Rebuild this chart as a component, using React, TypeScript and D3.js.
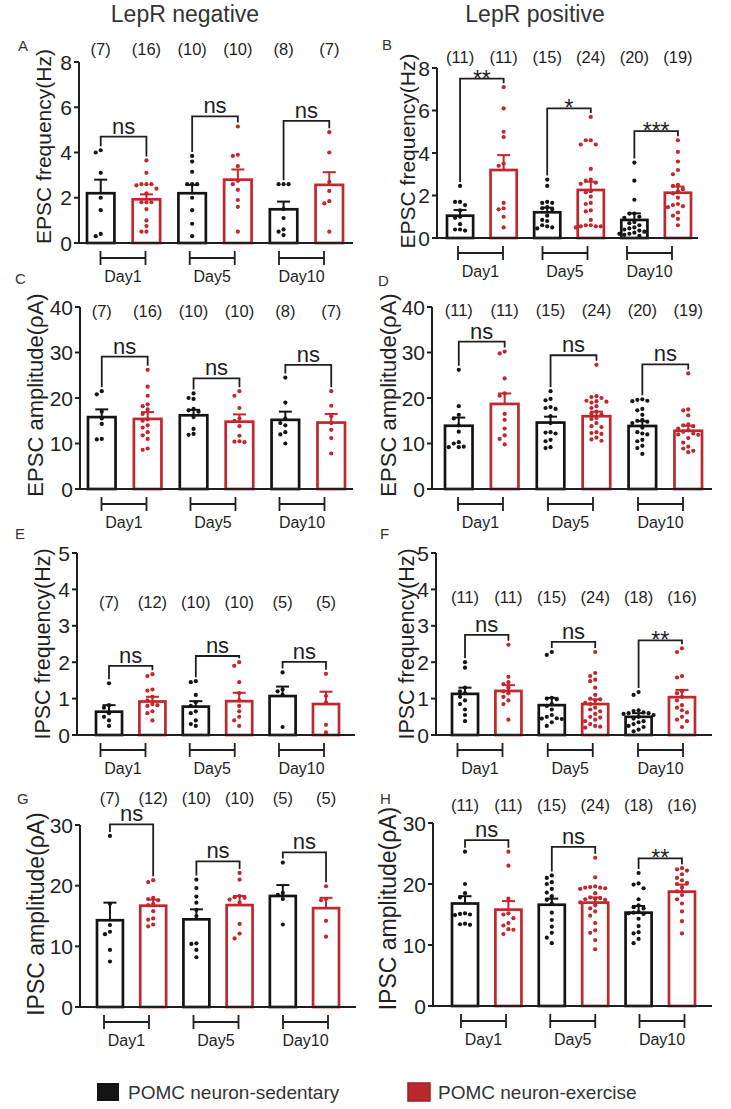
import React from 'react';
import * as d3 from 'd3';

// ---------- data ----------
const days = ['Day1', 'Day5', 'Day10'];
const columnTitles = ['LepR negative', 'LepR positive'];
const legendLabels = ['POMC neuron-sedentary', 'POMC neuron-exercise'];

// Panel A: EPSC frequency, LepR negative
const aTicks = [0, 2, 4, 6, 8];
const aMeans = [2.2, 1.93, 2.2, 2.8, 1.49, 2.57];
const aSems = [0.6, 0.22, 0.37, 0.45, 0.34, 0.56];
const aPoints = [
  [4.1, 4.0, 3.1, 2.0, 1.45, 0.4, 0.3],
  [3.65, 3.1, 2.6, 2.6, 2.6, 2.55, 2.4, 2.2, 1.8, 1.8, 1.8, 1.5, 1.0, 0.75, 0.5, 0.5],
  [3.85, 3.6, 3.15, 2.6, 2.6, 2.6, 2.0, 1.45, 0.85, 0.3],
  [5.15, 3.9, 3.85, 3.4, 2.75, 2.6, 2.35, 1.9, 1.6, 0.5],
  [2.6, 2.6, 2.6, 1.5, 1.1, 0.6, 0.5, 0.35],
  [4.9, 4.0, 2.7, 2.3, 1.85, 1.75, 0.5],
];
const aSig = ['ns', 'ns', 'ns'];
const aSigLevel = [4.7, 5.6, 5.4];
const aCountLevel = 8.55;

// Panel B: EPSC frequency, LepR positive
const bTicks = [0, 2, 4, 6, 8];
const bMeans = [1.05, 3.2, 1.21, 2.26, 0.85, 2.13];
const bSems = [0.27, 0.7, 0.22, 0.39, 0.31, 0.29];
const bPoints = [
  [2.45, 1.7, 1.7, 1.55, 1.3, 1.0, 0.95, 0.65, 0.4, 0.4, 0.35],
  [7.1, 6.1, 5.0, 4.75, 3.5, 3.4, 1.65, 1.4, 1.35, 1.0, 0.5],
  [2.75, 2.45, 1.7, 1.65, 1.65, 1.45, 1.4, 1.35, 1.05, 0.85, 0.8, 0.6, 0.55, 0.5, 0.45],
  [5.7, 4.6, 4.6, 4.4, 4.4, 3.25, 2.75, 2.7, 2.6, 2.55, 2.2, 2.15, 1.95, 1.65, 1.6, 1.3, 1.25, 0.85, 0.6, 0.6, 0.55, 0.55, 0.55, 0.5],
  [3.55, 2.7, 1.8, 1.15, 1.15, 1.0, 0.95, 0.75, 0.7, 0.6, 0.5, 0.45, 0.4, 0.35, 0.3, 0.25, 0.2, 0.2, 0.15, 0.1],
  [4.6, 4.05, 3.6, 3.2, 3.0, 2.5, 2.45, 2.3, 2.2, 2.1, 1.9, 1.6, 1.55, 1.5, 1.45, 1.2, 1.05, 0.9, 0.6],
];
const bSig = ['**', '*', '***'];
const bSigLevel = [7.5, 6.1, 5.03];
const bCountLevel = 8.5;

// Panel C: EPSC amplitude, LepR negative
const cTicks = [0, 10, 20, 30, 40];
const cMeans = [15.8, 15.4, 16.2, 14.8, 15.2, 14.6];
const cSems = [1.7, 1.5, 1.2, 1.6, 1.8, 1.9];
const cPoints = [
  [21.5, 20.8, 17.0, 15.5, 14.3, 11.0, 10.9],
  [26.2, 22.5, 20.5, 18.6, 18.2, 17.5, 16.5, 15.3, 15.0, 14.0, 13.5, 12.5, 11.8, 11.0, 8.9, 8.6],
  [21.0, 20.0, 19.8, 17.6, 17.3, 17.0, 15.8, 13.2, 12.1, 11.9],
  [21.5, 20.5, 17.8, 15.5, 15.0, 13.8, 11.7, 10.5, 10.4, 10.3],
  [24.5, 19.0, 15.5, 14.5, 14.0, 12.5, 12.0, 10.0],
  [21.5, 18.3, 16.0, 14.5, 13.0, 11.2, 7.8],
];
const cSig = ['ns', 'ns', 'ns'];
const cSigLevel = [29.1, 24.3, 27.3];
const cCountLevel = 39;

// Panel D: EPSC amplitude, LepR positive
const dTicks = [0, 10, 20, 30, 40];
const dMeans = [13.9, 18.7, 14.6, 16.0, 13.85, 12.8];
const dSems = [1.8, 2.3, 1.3, 1.0, 1.05, 1.1];
const dPoints = [
  [26.2, 18.2, 16.3, 15.5, 14.0, 12.6, 10.3, 10.0, 9.3, 9.2, 9.2],
  [30.2, 29.8, 24.3, 21.0, 20.5, 16.5, 15.2, 13.3, 11.8, 11.0, 9.8],
  [21.5, 19.8, 19.5, 18.0, 17.8, 17.6, 16.0, 14.5, 12.5, 12.4, 12.2, 10.8, 10.5, 9.2, 9.0],
  [27.3, 20.4, 20.2, 20.0, 19.4, 19.3, 19.2, 19.0, 18.2, 17.8, 17.0, 16.6, 16.4, 15.6, 15.4, 14.5, 13.8, 13.6, 12.5, 12.3, 12.1, 11.3, 10.9, 10.6],
  [19.7, 19.6, 19.4, 19.3, 17.6, 17.3, 16.3, 15.2, 15.0, 14.8, 14.5, 13.5, 12.5, 12.2, 12.0, 10.8, 10.5, 9.5, 9.0, 7.7],
  [25.4, 17.5, 17.3, 16.2, 14.2, 14.0, 13.8, 13.3, 12.9, 12.6, 12.2, 12.0, 11.9, 11.2, 10.2, 9.3, 8.9, 8.4, 8.1],
];
const dSig = ['ns', 'ns', 'ns'];
const dSigLevel = [32.4, 29.4, 27.4];
const dCountLevel = 39.3;

// Panel E: IPSC frequency, LepR negative
const eTicks = [0, 1, 2, 3, 4, 5];
const eMeans = [0.64, 0.92, 0.78, 0.93, 1.07, 0.85];
const eSems = [0.18, 0.13, 0.15, 0.23, 0.26, 0.34];
const ePoints = [
  [1.42, 0.82, 0.75, 0.6, 0.5, 0.4, 0.25],
  [1.67, 1.62, 1.25, 1.22, 1.05, 0.95, 0.85, 0.82, 0.8, 0.65, 0.6, 0.4],
  [1.48, 1.45, 1.1, 0.9, 0.8, 0.65, 0.6, 0.4, 0.3, 0.25],
  [2.0, 1.9, 1.45, 1.15, 0.95, 0.8, 0.65, 0.5, 0.4, 0.25],
  [1.72, 1.25, 1.2, 1.1, 0.22],
  [1.68, 1.07, 0.9, 0.28, 0.07],
];
const eSig = ['ns', 'ns', 'ns'];
const eSigLevel = [1.9, 2.17, 2.01];
const eCountLevel = 3.66;

// Panel F: IPSC frequency, LepR positive
const fTicks = [0, 1, 2, 3, 4, 5];
const fMeans = [1.13, 1.21, 0.82, 0.85, 0.5, 1.04];
const fSems = [0.17, 0.16, 0.2, 0.13, 0.1, 0.2];
const fPoints = [
  [2.0, 1.85, 1.3, 1.2, 1.15, 1.05, 0.95, 0.85, 0.7, 0.55, 0.38],
  [2.48, 1.6, 1.45, 1.4, 1.3, 1.2, 1.15, 1.05, 0.95, 0.85, 0.42],
  [2.28, 2.2, 1.02, 1.0, 0.98, 0.85, 0.8, 0.7, 0.55, 0.5, 0.46, 0.45, 0.44, 0.35, 0.25],
  [2.28, 1.7, 1.62, 1.52, 1.48, 1.3, 1.1, 1.0, 0.98, 0.95, 0.88, 0.85, 0.75, 0.7, 0.65, 0.58, 0.5, 0.48, 0.42, 0.38, 0.3, 0.25, 0.23, 0.2],
  [1.18, 1.1, 0.68, 0.66, 0.62, 0.6, 0.6, 0.58, 0.55, 0.5, 0.45, 0.38, 0.35, 0.3, 0.25, 0.22, 0.15, 0.1],
  [2.38, 2.28, 1.62, 1.58, 1.2, 1.15, 1.05, 0.95, 0.82, 0.75, 0.68, 0.62, 0.5, 0.42, 0.38, 0.22],
];
const fSig = ['ns', 'ns', '**'];
const fSigLevel = [2.75, 2.56, 2.6];
const fCountLevel = 3.8;

// Panel G: IPSC amplitude, LepR negative
const gTicks = [0, 10, 20, 30];
const gMeans = [14.3, 16.7, 14.45, 16.8, 18.3, 16.3];
const gSems = [2.9, 1.0, 1.65, 1.5, 1.8, 1.7];
const gPoints = [
  [28.2, 17.0, 13.5, 12.4, 12.0, 9.4, 7.5],
  [20.9, 20.6, 18.0, 17.8, 17.6, 17.0, 16.8, 15.8, 14.6, 14.4, 13.6, 13.3],
  [21.0, 19.6, 18.2, 17.2, 16.0, 15.0, 10.5, 10.4, 9.4, 8.2],
  [22.1, 21.0, 18.3, 18.1, 18.0, 17.7, 17.2, 13.7, 12.1, 11.3],
  [23.8, 18.8, 18.5, 17.8, 13.6],
  [19.9, 17.8, 17.6, 14.2, 11.6],
];
const gSig = ['ns', 'ns', 'ns'];
const gSigLevel = [30.1, 24.0, 25.5];
const gCountLevel = 34.4;

// Panel H: IPSC amplitude, LepR positive
const hTicks = [0, 10, 20, 30];
const hMeans = [16.8, 15.8, 16.6, 16.95, 15.3, 18.75];
const hSems = [1.2, 1.4, 1.0, 0.85, 1.1, 1.15];
const hPoints = [
  [25.3, 20.0, 18.5, 17.8, 15.2, 15.1, 15.0, 14.9, 13.5, 13.4, 13.3],
  [25.3, 23.0, 17.6, 15.2, 15.0, 14.4, 13.6, 13.2, 12.6, 12.5, 11.8],
  [21.4, 21.0, 20.3, 20.0, 19.2, 18.6, 18.0, 17.4, 16.8, 15.3, 14.1, 13.0, 12.0, 11.2, 10.3],
  [24.3, 21.1, 19.6, 19.5, 19.4, 19.4, 19.3, 19.2, 18.5, 17.8, 17.7, 17.6, 17.5, 17.4, 17.0, 16.5, 16.0, 15.5, 14.8, 13.6, 12.4, 12.0, 10.8, 9.3],
  [21.8, 20.1, 19.9, 19.3, 17.5, 16.5, 16.2, 16.0, 15.4, 15.3, 15.2, 15.1, 14.3, 13.1, 12.1, 11.9, 11.0, 10.3],
  [22.6, 22.4, 22.2, 21.6, 21.0, 20.6, 20.2, 20.0, 19.4, 18.8, 18.2, 17.5, 16.8, 15.5, 13.9, 11.9],
];
const hSig = ['ns', 'ns', '**'];
const hSigLevel = [27.2, 26.1, 24.2];
const hCountLevel = 33;

// ---------- styles ----------
const FONT = '"Liberation Sans", Arial, Helvetica, sans-serif';
const INK = '#1f1f1f';
const BLACK = '#141414';
const RED = '#c1272d';
const colorOf = (i: number) => (i % 2 === 0 ? BLACK : RED);

type Layout = {
  letter: string; title: string; titleSize: number; titleDy: number;
  axisX: number; axisEnd: number; barL: number; barR: number;
  yTop: number; yBot: number; labelX: number; brk: [number, number];
  lx: number; ly: number;
};

const panels = [
  { data: { ticks: aTicks, means: aMeans, sems: aSems, points: aPoints, sig: aSig, sigLevel: aSigLevel, countLevel: aCountLevel },
    lay: { letter: 'A', title: 'EPSC frequency(Hz)', titleSize: 21, titleDy: -6, axisX: 79, axisEnd: 353, barL: 87, barR: 343, yTop: 62, yBot: 243, labelX: 43, brk: [123, 301.5], lx: 18, ly: 51 } },
  { data: { ticks: bTicks, means: bMeans, sems: bSems, points: bPoints, sig: bSig, sigLevel: bSigLevel, countLevel: bCountLevel },
    lay: { letter: 'B', title: 'EPSC frequency(Hz)', titleSize: 21, titleDy: -2, axisX: 437, axisEnd: 698, barL: 447, barR: 691, yTop: 68, yBot: 238, labelX: 407, brk: [480.5, 649.5], lx: 382, ly: 50 } },
  { data: { ticks: cTicks, means: cMeans, sems: cSems, points: cPoints, sig: cSig, sigLevel: cSigLevel, countLevel: cCountLevel },
    lay: { letter: 'C', title: 'EPSC amplitude(ρA)', titleSize: 22, titleDy: -3, axisX: 80, axisEnd: 353, barL: 88, barR: 345, yTop: 307, yBot: 489, labelX: 35, brk: [124, 302], lx: 15, ly: 284 } },
  { data: { ticks: dTicks, means: dMeans, sems: dSems, points: dPoints, sig: dSig, sigLevel: dSigLevel, countLevel: dCountLevel },
    lay: { letter: 'D', title: 'EPSC amplitude(ρA)', titleSize: 22, titleDy: -3, axisX: 432, axisEnd: 712, barL: 445, barR: 702, yTop: 307, yBot: 489, labelX: 388, brk: [480.5, 660.5], lx: 378, ly: 286 } },
  { data: { ticks: eTicks, means: eMeans, sems: eSems, points: ePoints, sig: eSig, sigLevel: eSigLevel, countLevel: eCountLevel },
    lay: { letter: 'E', title: 'IPSC frequency(Hz)', titleSize: 21.5, titleDy: 0, axisX: 77, axisEnd: 355, barL: 96, barR: 339, yTop: 553, yBot: 735, labelX: 43, brk: [123, 301.5], lx: 15, ly: 539 } },
  { data: { ticks: fTicks, means: fMeans, sems: fSems, points: fPoints, sig: fSig, sigLevel: fSigLevel, countLevel: fCountLevel },
    lay: { letter: 'F', title: 'IPSC frequency(Hz)', titleSize: 21.5, titleDy: 0, axisX: 436, axisEnd: 712, barL: 452, barR: 695, yTop: 553, yBot: 735, labelX: 407, brk: [480, 660.5], lx: 380, ly: 539 } },
  { data: { ticks: gTicks, means: gMeans, sems: gSems, points: gPoints, sig: gSig, sigLevel: gSigLevel, countLevel: gCountLevel },
    lay: { letter: 'G', title: 'IPSC amplitude(ρA)', titleSize: 23, titleDy: -2, axisX: 80, axisEnd: 356, barL: 97, barR: 339, yTop: 825, yBot: 1007, labelX: 36, brk: [126.5, 305.5], lx: 17, ly: 804 } },
  { data: { ticks: hTicks, means: hMeans, sems: hSems, points: hPoints, sig: hSig, sigLevel: hSigLevel, countLevel: hCountLevel },
    lay: { letter: 'H', title: 'IPSC amplitude(ρA)', titleSize: 23, titleDy: -6, axisX: 433, axisEnd: 712, barL: 452, barR: 695, yTop: 823, yBot: 1006, labelX: 388, brk: [483.5, 662], lx: 380, ly: 804 } },
];

// simple deterministic beeswarm in pixel space
function swarm(values: number[], y: (v: number) => number, r: number, step: number) {
  const order = values.map((_, i) => i).sort((a, b) => values[b] - values[a]);
  const placed: { x: number; y: number }[] = [];
  const out: { dx: number; py: number }[] = new Array(values.length);
  const cands = [0];
  for (let j = 1; j <= 4; j++) cands.push(-j * step, j * step);
  const minD = 2 * r + 0.8;
  for (const i of order) {
    const py = y(values[i]);
    let best = 0, bestScore = Infinity;
    for (const c of cands) {
      let overlap = 0;
      for (const p of placed) {
        const d = Math.hypot(p.x - c, p.y - py);
        if (d < minD) overlap += minD - d;
      }
      if (overlap === 0) { best = c; bestScore = 0; break; }
      if (overlap < bestScore) { bestScore = overlap; best = c; }
    }
    placed.push({ x: best, y: py });
    out[i] = { dx: best, py };
  }
  return out;
}

function Panel({ data, lay }: { data: any; lay: Layout }) {
  const domain = d3.extent(data.ticks as number[]) as [number, number];
  const y = d3.scaleLinear().domain(domain).range([lay.yBot, lay.yTop]);
  const x = d3.scaleBand<number>().domain(d3.range(6)).range([lay.barL, lay.barR]).paddingInner(0.4).paddingOuter(0);
  const bw = x.bandwidth();
  const cx = (i: number) => (x(i) as number) + bw / 2;
  const gx = d3.scalePoint<string>().domain(days).range(lay.brk);
  const brW = 45;
  const yMid = (lay.yTop + lay.yBot) / 2 + lay.titleDy;

  const topOf = (i: number) => Math.min(y(d3.max(data.points[i] as number[]) as number), y(data.means[i] + data.sems[i]));

  return (
    <g>
      <text x={lay.lx} y={lay.ly} fontSize={15} fill="#333" fontFamily={FONT}>{lay.letter}</text>
      {/* y axis title */}
      <text transform={`translate(${lay.labelX},${yMid}) rotate(-90)`} textAnchor="middle" dominantBaseline="central"
        fontSize={lay.titleSize} fill={INK} fontFamily={FONT}>{lay.title}</text>
      {/* y axis */}
      <line x1={lay.axisX} x2={lay.axisX} y1={lay.yTop} y2={lay.yBot} stroke={INK} strokeWidth={2} />
      {data.ticks.map((t: number) => (
        <g key={t}>
          <line x1={lay.axisX - 5} x2={lay.axisX} y1={y(t)} y2={y(t)} stroke={INK} strokeWidth={2} />
          <text x={lay.axisX - 7} y={y(t)} dy="0.36em" textAnchor="end" fontSize={21} fill={INK} fontFamily={FONT}>{t}</text>
        </g>
      ))}
      {/* bars */}
      {data.means.map((m: number, i: number) => (
        <rect key={'b' + i} x={x(i)} y={y(m)} width={bw} height={lay.yBot - y(m)} fill="#fff" stroke={colorOf(i)} strokeWidth={2.7} />
      ))}
      {/* points */}
      {data.points.map((pts: number[], i: number) => {
        const sw = swarm(pts, y, 2.1, 5);
        return sw.map((s, k) => (
          <circle key={'p' + i + '_' + k} cx={cx(i) + s.dx} cy={s.py} r={2.1} fill={colorOf(i)} />
        ));
      })}
      {/* error bars */}
      {data.means.map((m: number, i: number) => {
        const t = y(m + data.sems[i]);
        return (
          <g key={'e' + i} stroke={colorOf(i)} strokeWidth={2}>
            <line x1={cx(i)} x2={cx(i)} y1={y(m)} y2={t} />
            <line x1={cx(i) - 6.5} x2={cx(i) + 6.5} y1={t} y2={t} />
          </g>
        );
      })}
      {/* x axis */}
      <line x1={lay.axisX - 1} x2={lay.axisEnd} y1={lay.yBot} y2={lay.yBot} stroke={INK} strokeWidth={2} />
      {/* n counts */}
      {data.points.map((pts: number[], i: number) => (
        <text key={'n' + i} x={cx(i)} y={y(data.countLevel)} dy="0.36em" textAnchor="middle" fontSize={16.5} fill={INK} fontFamily={FONT}>({pts.length})</text>
      ))}
      {/* significance brackets */}
      {days.map((d, k) => {
        const i = 2 * k, j = 2 * k + 1;
        const L = y(data.sigLevel[k]);
        const li = topOf(i) - 4, lj = topOf(j) - 4;
        const txt = data.sig[k];
        const star = txt !== 'ns';
        return (
          <g key={'s' + k}>
            <path d={`M${cx(i)},${li}V${L}H${cx(j)}V${lj}`} fill="none" stroke={INK} strokeWidth={1.8} />
            <text x={(cx(i) + cx(j)) / 2} y={star ? L + 8 : L - 3} textAnchor="middle" fontSize={star ? 23 : 22} fill={INK} fontFamily={FONT}>{txt}</text>
          </g>
        );
      })}
      {/* group brackets */}
      {days.map((d) => {
        const c = gx(d) as number;
        const yb = lay.yBot + 15;
        return (
          <g key={'g' + d}>
            <path d={`M${c - brW / 2},${yb - 7}V${yb + 7}M${c - brW / 2},${yb}H${c + brW / 2}M${c + brW / 2},${yb - 7}V${yb + 7}`}
              fill="none" stroke={INK} strokeWidth={1.8} />
            <text x={c} y={lay.yBot + 39} textAnchor="middle" fontSize={16} fill={INK} fontFamily={FONT}>{d}</text>
          </g>
        );
      })}
    </g>
  );
}

export default function App() {
  return (
    <svg width={731} height={1109} viewBox="0 0 731 1109"
      style={{ position: 'absolute', left: 0, top: 0, display: 'block', background: '#fff' }}>
      <rect width={731} height={1109} fill="#fff" />
      <text x={185} y={22} textAnchor="middle" fontSize={23} fill="#333" fontFamily={FONT}>{columnTitles[0]}</text>
      <text x={535} y={22} textAnchor="middle" fontSize={23} fill="#333" fontFamily={FONT}>{columnTitles[1]}</text>
      {panels.map((p, i) => <Panel key={i} data={p.data} lay={p.lay as Layout} />)}
      {/* legend */}
      <g fontFamily={FONT}>
        <rect x={97} y={1083} width={22} height={18} fill={BLACK} />
        <text x={128} y={1099} fontSize={19} fill="#333">{legendLabels[0]}</text>
        <rect x={408} y={1083} width={22} height={18} fill="#b8282d" stroke="#a01f24" strokeWidth={1.5} />
        <text x={438} y={1099} fontSize={19} fill="#333">{legendLabels[1]}</text>
      </g>
    </svg>
  );
}
